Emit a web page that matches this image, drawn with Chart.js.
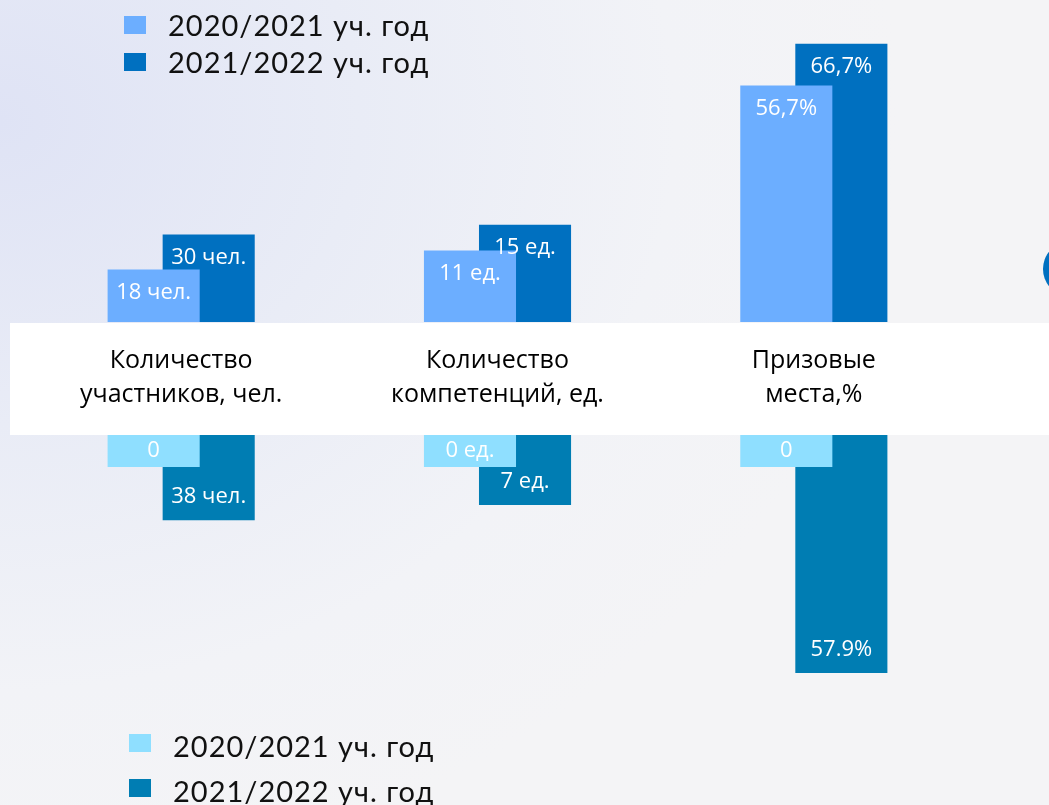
<!DOCTYPE html>
<html lang="ru">
<head>
<meta charset="UTF-8">
<title>Участие в чемпионатах</title>
<script src="https://cdn.jsdelivr.net/npm/chart.js"></script>
<style>
  body { margin: 0; }
  #page {
    position: relative; width: 1049px; height: 805px; overflow: hidden;
    background: radial-gradient(ellipse 900px 760px at 0% 15%, #dfe3f5 0%, #e9ecf6 40%, #f2f3f7 75%, #f4f4f6 100%);
  }
  #band { position: absolute; left: 10px; top: 323px; width: 1039px; height: 112px; background: #fff; }
  #blob { position: absolute; left: 1043px; top: 244px; width: 44px; height: 50px; border-radius: 50%; background: #0070c0; }
  canvas { position: absolute; left: 0; }
  #upper { top: 0; }
  #lower { top: 435px; }
  .legend { position: absolute; font-family: Lato, sans-serif; font-size: 29px; color: #111; letter-spacing: 1px; }
  .legend div { position: relative; height: 37px; line-height: 37px; padding-left: 44px; }
  .legend span { position: absolute; left: 0; top: 10px; width: 22px; height: 18px; }
  #legTop { left: 124px; top: 6px; }
  #legBottom { left: 129px; top: 723px; }
  #legBottom div { height: 45px; line-height: 45px; }
  #legBottom span { top: 11px; }
</style>
</head>
<body>
<div id="page">
  <div id="band"></div>
  <div id="blob"></div>
  <canvas id="upper" width="1049" height="435"></canvas>
  <canvas id="lower" width="1049" height="370"></canvas>
  <div class="legend" id="legTop"></div>
  <div class="legend" id="legBottom"></div>
</div>
<script>
// categories (shown in the white band)
var categories = [["Количество", "участников, чел."], ["Количество", "компетенций, ед."], ["Призовые", "места,%"]];
var seriesNames = ["2020/2021 уч. год", "2021/2022 уч. год"];

// upper block
var upperA = [18, 11, 56.7];
var upperB = [30, 15, 66.7];
var upperTextA = ["18 чел.", "11 ед.", "56,7%"];
var upperTextB = ["30 чел.", "15 ед.", "66,7%"];

// lower block
var lowerA = [0, 0, 0];
var lowerB = [38, 7, 57.9];
var lowerTextA = ["0", "0 ед.", "0"];
var lowerTextB = ["38 чел.", "7 ед.", "57.9%"];

var upperColors = ["#6caeff", "#0070c0"];
var lowerColors = ["#8fdfff", "#007db3"];

// each category has its own unit, so its own (hidden) value axis
function buildDatasets(seriesA, seriesB, textA, textB, colors) {
    var out = [];
    categories.forEach(function(c, i) {
        [[seriesA, textA], [seriesB, textB]].forEach(function(s, k) {
            out.push({
                label: seriesNames[k],
                data: categories.map(function(_, j) { return j === i ? s[0][j] : null; }),
                texts: s[1],
                yAxisID: "y" + i,
                backgroundColor: colors[k],
                skipNull: true,
                minBarLength: 32,
                categoryPercentage: 0.348,
                barPercentage: 1.673
            });
        });
    });
    return out;
}

// write value labels inside the bars, near the outer end
var barText = {
    id: "barText",
    afterDatasetsDraw: function(chart) {
        var ctx = chart.ctx;
        ctx.save();
        ctx.font = "22px 'Open Sans', sans-serif";
        ctx.fillStyle = "#fff";
        ctx.textAlign = "center";
        ctx.textBaseline = "middle";
        chart.data.datasets.forEach(function(ds, d) {
            chart.getDatasetMeta(d).data.forEach(function(el, j) {
                if (ds.data[j] === null) return;
                var dir = el.base > el.y ? 1 : -1;
                var len = Math.abs(el.base - el.y);
                var y = len < 48 ? (el.y + el.base) / 2 : el.y + dir * 23;
                ctx.fillText(ds.texts[j], el.x, y);
            });
        });
        ctx.restore();
    }
};

function yAxes(maxes, min, reverse) {
    var s = {};
    maxes.forEach(function(m, i) {
        s["y" + i] = { display: false, min: min, max: m, reverse: reverse };
    });
    return s;
}

var upperScales = yAxes([100, 45, 70], 0, false);
upperScales.x = {
    grid: { display: false, drawTicks: false },
    border: { display: false },
    ticks: {
        color: "#000",
        padding: 22,
        maxRotation: 0,
        autoSkip: false,
        font: { family: "'Open Sans', sans-serif", size: 25, lineHeight: 1.35 }
    },
    afterFit: function(scale) { scale.height = 113; }
};

new Chart(document.getElementById("upper"), {
    type: "bar",
    data: { labels: categories, datasets: buildDatasets(upperA, upperB, upperTextA, upperTextB, upperColors) },
    options: {
        responsive: false,
        animation: false,
        devicePixelRatio: 1,
        layout: { padding: { left: 23, right: 77, top: 30, bottom: 0 } },
        plugins: { legend: { display: false }, tooltip: { enabled: false } },
        scales: upperScales
    },
    plugins: [barText]
});

// a hair below zero so the short zero bars hang downward from the band
var lowerScales = yAxes([165, 37, 90], -0.001, true);
lowerScales.x = { display: false };

new Chart(document.getElementById("lower"), {
    type: "bar",
    data: { labels: categories, datasets: buildDatasets(lowerA, lowerB, lowerTextA, lowerTextB, lowerColors) },
    options: {
        responsive: false,
        animation: false,
        devicePixelRatio: 1,
        layout: { padding: { left: 23, right: 77, top: 0, bottom: 0 } },
        plugins: { legend: { display: false }, tooltip: { enabled: false } },
        scales: lowerScales
    },
    plugins: [barText]
});

function legend(id, colors) {
    var box = document.getElementById(id);
    seriesNames.forEach(function(name, k) {
        var row = document.createElement("div");
        var sw = document.createElement("span");
        sw.style.background = colors[k];
        row.appendChild(sw);
        row.appendChild(document.createTextNode(name));
        box.appendChild(row);
    });
}
legend("legTop", upperColors);
legend("legBottom", lowerColors);
</script>
</body>
</html>
